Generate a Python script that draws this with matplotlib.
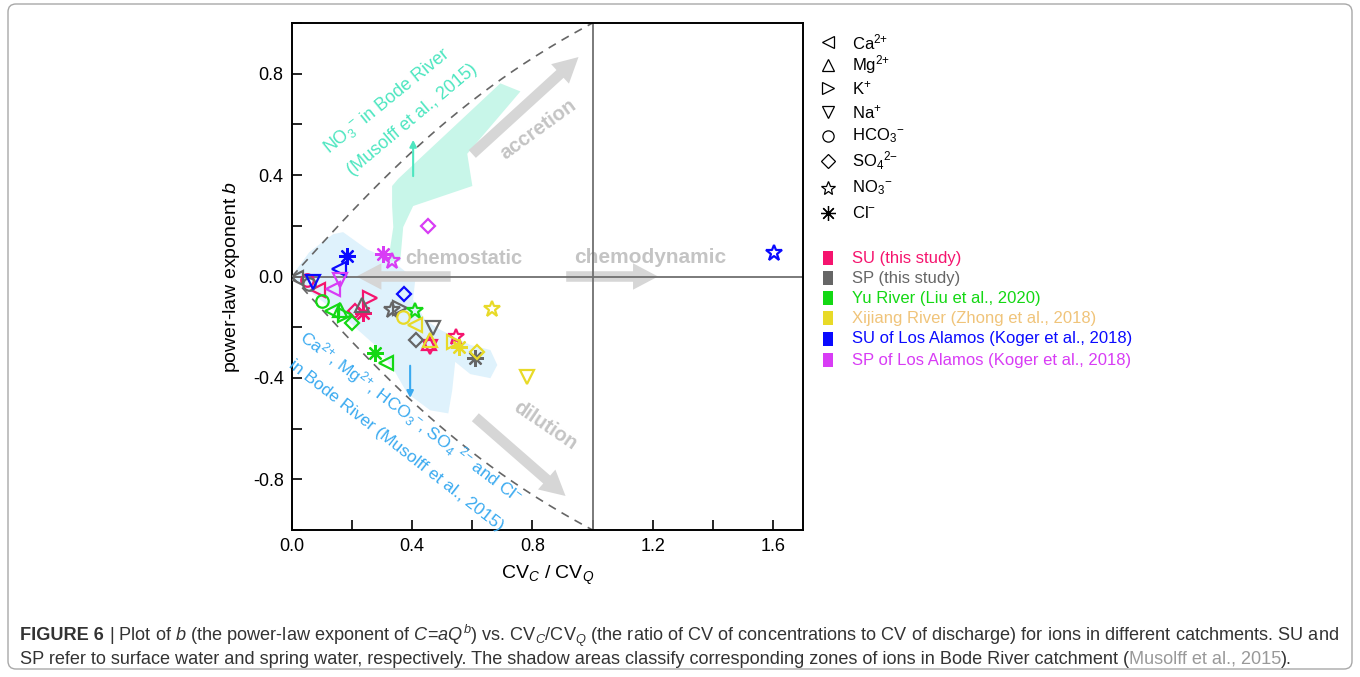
import numpy as np
import matplotlib
matplotlib.use("Agg")
import matplotlib.pyplot as plt
from matplotlib.patches import Polygon, FancyArrowPatch, FancyBboxPatch, Rectangle
from matplotlib.ticker import MultipleLocator

plt.rcParams['font.family'] = ['Liberation Sans', 'DejaVu Sans']
plt.rcParams['mathtext.fontset'] = 'custom'
plt.rcParams['mathtext.rm'] = 'Liberation Sans'
plt.rcParams['mathtext.it'] = 'Liberation Sans:italic'
plt.rcParams['mathtext.bf'] = 'Liberation Sans:bold'
plt.rcParams['axes.unicode_minus'] = False

# ---- ions / markers ----
ion_names = ['Ca', 'Mg', 'K', 'Na', 'HCO3', 'SO4', 'NO3', 'Cl']
ion_labels = [r'Ca$^{2{+}}$', r'Mg$^{2{+}}$', r'K$^{{+}}$', r'Na$^{{+}}$',
              r'HCO$_3{}^{{-}}$', r'SO$_4{}^{2{-}}$', r'NO$_3{}^{{-}}$', r'Cl$^{{-}}$']
ion_markers = ['<', '^', '>', 'v', 'o', 'D', '*', (8, 2, 0)]
ion_msize = [10, 10, 10, 10, 9, 7.5, 12, 12]

# ---- series (CVc/CVq, b) ----
su_ion = ['HCO3', 'Ca', 'SO4', 'Cl', 'K', 'Mg', 'Na', 'NO3']
su_x = [0.049, 0.085, 0.21, 0.236, 0.26, 0.457, 0.46, 0.547]
su_y = [-0.012, -0.055, -0.138, -0.144, -0.085, -0.262, -0.277, -0.237]

sp_ion = ['Ca', 'HCO3', 'Mg', 'NO3', 'K', 'Na', 'SO4', 'Cl']
sp_x = [0.012, 0.055, 0.232, 0.332, 0.36, 0.469, 0.413, 0.608]
sp_y = [-0.004, -0.03, -0.111, -0.131, -0.124, -0.204, -0.25, -0.323]

yu_ion = ['HCO3', 'Ca', 'Mg', 'K', 'SO4', 'NO3', 'Cl', 'Ca']
yu_x = [0.10, 0.132, 0.16, 0.175, 0.199, 0.41, 0.277, 0.313]
yu_y = [-0.098, -0.138, -0.131, -0.15, -0.184, -0.138, -0.30, -0.343]

xj_ion = ['HCO3', 'Ca', 'Mg', 'K', 'Cl', 'SO4', 'NO3', 'Na']
xj_x = [0.369, 0.41, 0.46, 0.538, 0.554, 0.616, 0.667, 0.782]
xj_y = [-0.16, -0.19, -0.25, -0.257, -0.277, -0.296, -0.128, -0.396]

sula_ion = ['Na', 'Ca', 'Cl', 'SO4', 'NO3']
sula_x = [0.071, 0.158, 0.182, 0.371, 1.603]
sula_y = [-0.022, 0.028, 0.081, -0.071, 0.091]

spla_ion = ['Ca', 'Na', 'Cl', 'NO3', 'SO4']
spla_x = [0.135, 0.16, 0.302, 0.332, 0.451]
spla_y = [-0.05, -0.012, 0.09, 0.061, 0.2]

series_labels = ['SU (this study)', 'SP (this study)', 'Yu River (Liu et al., 2020)',
                 'Xijiang River (Zhong et al., 2018)', 'SU of Los Alamos (Koger et al., 2018)',
                 'SP of Los Alamos (Koger et al., 2018)']
series_colors = ['#f5146e', '#666666', '#14d814', '#e8da28', '#0a0aff', '#d83cf5']
series_text_colors = ['#f5146e', '#666666', '#14d814', '#f0c47a', '#0a0aff', '#d83cf5']
series_data = [(su_ion, su_x, su_y), (sp_ion, sp_x, sp_y), (yu_ion, yu_x, yu_y),
               (xj_ion, xj_x, xj_y), (sula_ion, sula_x, sula_y), (spla_ion, spla_x, spla_y)]

# ---- shaded zones of Bode River (Musolff et al., 2015) ----
no3_zone_x = [0.693, 0.760, 0.583, 0.600, 0.403, 0.370, 0.360, 0.320, 0.337, 0.333, 0.333, 0.353]
no3_zone_y = [0.762, 0.730, 0.484, 0.357, 0.278, 0.195, 0.060, 0.060, 0.195, 0.278, 0.357, 0.385]
geo_zone_x = [0.003, 0.057, 0.100, 0.137, 0.170, 0.250, 0.327, 0.360, 0.410, 0.403, 0.443, 0.493,
              0.593, 0.660, 0.683, 0.660, 0.593, 0.543, 0.533, 0.520, 0.460, 0.383, 0.343, 0.283,
              0.193, 0.137, 0.060, 0.003]
geo_zone_y = [0.008, 0.095, 0.135, 0.167, 0.175, 0.107, 0.067, 0.036, -0.012, -0.091, -0.171, -0.210,
              -0.270, -0.290, -0.349, -0.401, -0.385, -0.337, -0.449, -0.540, -0.528, -0.460, -0.377,
              -0.278, -0.183, -0.131, -0.060, -0.012]

W, H = 1360, 677
fig = plt.figure(figsize=(W / 100, H / 100), dpi=100)
ax = fig.add_axes([292 / W, 1 - 530 / H, (803 - 292) / W, (530 - 23) / H])
ax.set_xlim(0, 1.7)
ax.set_ylim(-1, 1)

ax.add_patch(Polygon(np.column_stack([geo_zone_x, geo_zone_y]), closed=True,
                     facecolor='#dff2fc', edgecolor='none', zorder=0))
ax.add_patch(Polygon(np.column_stack([no3_zone_x, no3_zone_y]), closed=True,
                     facecolor='#c8f6e9', edgecolor='none', zorder=0))

# theoretical bounds (lognormal, sigma^2 = 1)
bb = np.linspace(0, 1, 200)
cv_ratio = np.sqrt(np.expm1(bb ** 2) / np.expm1(1))
ax.plot(cv_ratio, bb, ls=(0, (5, 4)), color='#666666', lw=1.2, zorder=2)
ax.plot(cv_ratio, -bb, ls=(0, (5, 4)), color='#666666', lw=1.2, zorder=2)

# big gray arrows
big = dict(arrowstyle='simple,head_length=0.9,head_width=0.95,tail_width=0.38',
           mutation_scale=20, color='#d6d6d6', lw=0, zorder=1)
for a, b in [((0.593, 0.476), (0.96, 0.873)), ((0.603, -0.548), (0.917, -0.873)),
             ((0.537, 0.0), (0.205, 0.0)), ((0.903, 0.0), (1.227, 0.0))]:
    ax.add_patch(FancyArrowPatch(a, b, **big))

ax.axhline(0, color='#707070', lw=1.3, zorder=2)
ax.axvline(1, color='#707070', lw=1.3, zorder=2)

gtxt = dict(color='#c4c4c4', fontsize=14.5, fontweight='bold', ha='center', va='center',
            rotation_mode='anchor', zorder=1.5)
ax.text(0.57, 0.07, 'chemostatic', **gtxt)
ax.text(1.19, 0.075, 'chemodynamic', **{**gtxt, 'fontsize': 15})
ax.text(0.82, 0.58, 'accretion', rotation=36, **gtxt)
ax.text(0.843, -0.59, 'dilution', rotation=-34, **gtxt)

mint = '#4de6c0'
ax.text(0.317, 0.695, r'NO$_3{}^{{-}}$ in Bode River', color=mint, fontsize=13, rotation=39,
        ha='center', va='center', rotation_mode='anchor')
ax.text(0.40, 0.62, '(Musolff et al., 2015)', color=mint, fontsize=13, rotation=40,
        ha='center', va='center', rotation_mode='anchor')
ax.annotate('', xy=(0.403, 0.55), xytext=(0.403, 0.385),
            arrowprops=dict(arrowstyle='-|>', color=mint, lw=1.5, mutation_scale=10))

lblue = '#3aaaf0'
ax.text(0.395, -0.555, r'Ca$^{2{+}}$, Mg$^{2{+}}$, HCO$_3{}^{{-}}$, SO$_4$ $^{2{-}}$ and Cl$^{{-}}$',
        color=lblue, fontsize=12.5, rotation=-37, ha='center', va='center', rotation_mode='anchor')
ax.text(0.345, -0.665, 'in Bode River (Musolff et al., 2015)', color=lblue, fontsize=12.5,
        rotation=-38, ha='center', va='center', rotation_mode='anchor')
ax.annotate('', xy=(0.393, -0.49), xytext=(0.393, -0.341),
            arrowprops=dict(arrowstyle='-|>', color=lblue, lw=1.5, mutation_scale=10))

# data points
for (ions, xs, ys), col in zip(series_data, series_colors):
    for ion, x, y in zip(ions, xs, ys):
        k = ion_names.index(ion)
        ax.plot(x, y, ls='none', marker=ion_markers[k], ms=ion_msize[k], mfc='none',
                mec=col, mew=1.6, zorder=4)

ax.xaxis.set_major_locator(MultipleLocator(0.4))
ax.xaxis.set_minor_locator(MultipleLocator(0.2))
ax.yaxis.set_major_locator(MultipleLocator(0.4))
ax.yaxis.set_minor_locator(MultipleLocator(0.2))
ax.xaxis.set_major_formatter(plt.FormatStrFormatter('%.1f'))
ax.yaxis.set_major_formatter(plt.FormatStrFormatter('%.1f'))
ax.tick_params(which='both', direction='in', length=7, width=1.2, labelsize=13, pad=6,
               top=False, right=False)
for s in ax.spines.values():
    s.set_linewidth(1.4)
ax.set_xlabel(r'CV$_{C}$ / CV$_{Q}$', fontsize=14, labelpad=6)
ax.set_ylabel(r'power-law exponent $b$', fontsize=14, labelpad=8)

# overlay in pixel units for legends, frame and caption
ov = fig.add_axes([0, 0, 1, 1], zorder=5)
ov.set_xlim(0, W)
ov.set_ylim(H, 0)
ov.axis('off')

ov.add_patch(FancyBboxPatch((8, 4), W - 16, H - 12, boxstyle='round,pad=0,rounding_size=8',
                            facecolor='none', edgecolor='#a8a8a8', lw=1.0))

ion_rows = [42, 65, 88, 112, 136, 161, 188, 213]
for k, yrow in enumerate(ion_rows):
    ov.plot(828, yrow, ls='none', marker=ion_markers[k], ms=ion_msize[k] * 0.9, mfc='none',
            mec='black', mew=0.9)
    ov.text(852, yrow, ion_labels[k], fontsize=12, va='center', ha='left')

ser_rows = [258, 278, 298, 318, 339, 360]
for k, yrow in enumerate(ser_rows):
    ov.add_patch(Rectangle((823, yrow - 7), 10, 14, facecolor=series_colors[k], edgecolor='none'))
    ov.text(852, yrow, series_labels[k], fontsize=12, color=series_text_colors[k],
            va='center', ha='left')

# caption
cap_fams = ['Liberation Sans Narrow', 'Liberation Sans', 'DejaVu Sans']
renderer = fig.canvas.get_renderer()


def write_line(x, y, pieces, size):
    texts = []
    for s, kw in pieces:
        t = ov.text(x, y, s, fontsize=size, va='center', ha='left', family=cap_fams,
                    color=kw.get('color', '#333333'), fontweight=kw.get('weight', 'normal'))
        x += t.get_window_extent(renderer).width
        texts.append(t)
    return x, texts


line1 = [('FIGURE 6', {'weight': 'bold'}),
         (r' | Plot of $b$ (the power-law exponent of $C$=$aQ^b$) vs. CV$_C$/CV$_Q$ (the ratio of CV of '
          r'concentrations to CV of discharge) for ions in different catchments. SU and', {})]
line2 = [('SP refer to surface water and spring water, respectively. The shadow areas classify '
          'corresponding zones of ions in Bode River catchment (', {}),
         ('Musolff et al., 2015', {'color': '#999999'}),
         (').', {})]

x_end, tmp = write_line(20, 636, line1, 12)
for t in tmp:
    t.remove()
cap_size = 12 * (1338 - 20) / (x_end - 20)
write_line(20, 636, line1, cap_size)
write_line(20, 659, line2, cap_size)

fig.savefig('out.png', dpi=100)
